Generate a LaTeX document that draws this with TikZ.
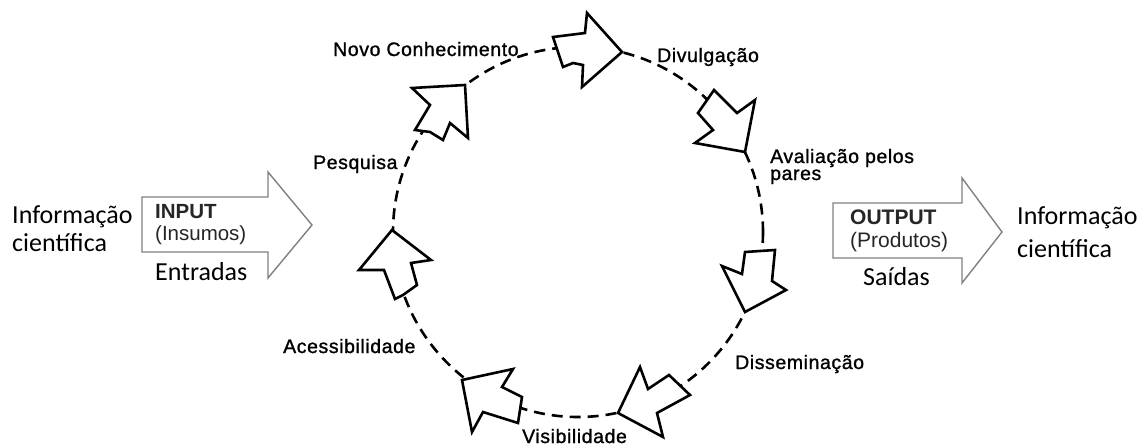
\documentclass[tikz,border=0pt]{standalone}
\usepackage{fontspec}
\setmainfont{Carlito}
\newfontfamily\stagefont{Liberation Sans}[LetterSpace=3,FakeBold=1.2]
\newfontfamily\boxfont{Liberation Sans}

\begin{document}
\begin{tikzpicture}[x=1pt,y=-1pt]
\tikzstyle{every node}+=[inner sep=0pt]
\tikzstyle{cycle arrow}=[draw=black, fill=white, line width=2.6pt, line join=miter]
\tikzstyle{flow arrow}=[draw=black!50, fill=white, line width=1.4pt]
\tikzstyle{stage}=[anchor=base west, font=\fontsize{19.5}{17}\stagefont]
\tikzstyle{side}=[anchor=base west, align=left]
\useasboundingbox (0,0) rectangle (1141,445);
% dashed cycle
\draw [black, line width=2.6pt, dash pattern=on 11pt off 7pt] (578,232) circle (185);
% the seven arrows on the cycle
\draw [cycle arrow] (553,37) -- (585,33) -- (587,13) -- (622,52) -- (582,87) -- (583,65) -- (573,63) -- (563,67) -- cycle;
\draw [cycle arrow] (714,90) -- (737,113) -- (755,100) -- (745,152) -- (695,143) -- (713,130) -- (698,113) -- cycle;
\draw [cycle arrow] (745,252) -- (775,250) -- (772,281) -- (786,290) -- (745,312) -- (722,266) -- (742,274) -- cycle;
\draw [cycle arrow] (640,367) -- (648,389) -- (669,375) -- (690,395) -- (657,413) -- (663,437) -- (618,413) -- cycle;
\draw [cycle arrow] (462,380) -- (513,369) -- (502,387) -- (522,397) -- (518,423) -- (483,412) -- (472,432) -- cycle;
\draw [cycle arrow] (392,230) -- (431,260) -- (411,263) -- (417,285) -- (403,295) -- (395,299) -- (384,270) -- (359,270) -- cycle;
\draw [cycle arrow] (465,85) -- (468,138) -- (450,123) -- (443,140) -- (430,132) -- (415,130) -- (430,105) -- (412,88) -- cycle;
% stage labels
\node (novo) [stage] at (333,56) {Novo Conhecimento};
\node (divulg) [stage] at (657,62) {Divulgação};
\node (aval) [stage, align=left] at (770,180) {Avaliação pelos\\pares};
\node (pesq) [stage] at (313,169) {Pesquisa};
\node (acess) [stage] at (283,353) {Acessibilidade};
\node (dissem) [stage] at (735,369) {Disseminação};
\node (visib) [stage] at (522,443) {Visibilidade};
% input and output
\draw [flow arrow] (142,197) -- (268,197) -- (268,172) -- (312,225) -- (268,278) -- (268,252) -- (142,252) -- cycle;
\draw [flow arrow] (833,203) -- (962,203) -- (962,178) -- (1002,232) -- (962,283) -- (962,258) -- (833,258) -- cycle;
\node (infoin) [side, font=\fontsize{26}{28}\selectfont] at (12,251) {Informação\\científica};
\node (input) [side, font=\fontsize{20.5}{22}\boxfont, text=black!85] at (155,240) {\textbf{INPUT}\\(Insumos)};
\node (entradas) [side, font=\fontsize{26}{28}\selectfont] at (155,280) {Entradas};
\node (output) [side, font=\fontsize{21}{23}\boxfont, text=black!85] at (850,247) {\textbf{OUTPUT}\\(Produtos)};
\node (saidas) [side, font=\fontsize{26}{28}\selectfont] at (863,285) {Saídas};
\node (infoout) [side, font=\fontsize{26}{33}\selectfont] at (1017,257) {Informação\\científica};
\end{tikzpicture}
\end{document}
